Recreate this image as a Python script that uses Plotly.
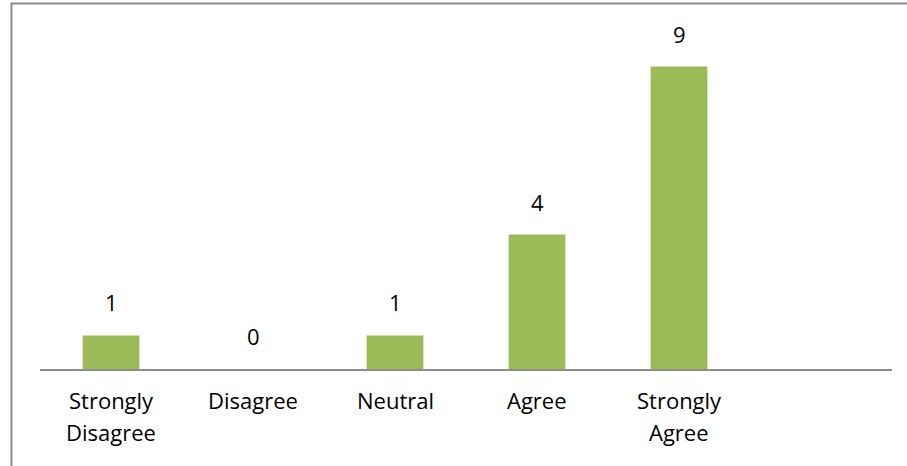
import plotly.graph_objects as go

categories = ["Strongly<br>Disagree", "Disagree", "Neutral", "Agree", "Strongly<br>Agree", " "]
counts = [1, 0, 1, 4, 9]
y_max = 10

font = dict(family="Open Sans, sans-serif", size=22, color="#000000")

fig = go.Figure()
fig.add_trace(go.Bar(
    x=categories[:len(counts)],
    y=counts,
    marker=dict(color="#9BBB59", line=dict(width=0)),
    width=0.4,
    hoverinfo="y",
))

# data labels above bars
for c, v in zip(categories, counts):
    fig.add_annotation(x=c, y=v, text=str(v), showarrow=False,
                       yanchor="bottom", yshift=16, font=font)

# category labels, Excel-style wider line spacing
for c in categories:
    for i, line in enumerate(c.split("<br>")):
        fig.add_annotation(x=c, y=0, yref="paper", text=line, showarrow=False,
                           yanchor="middle", yshift=-31 - 32 * i, font=font)

# outer chart border (left and top edges visible)
fig.add_shape(type="rect", xref="paper", yref="paper",
              x0=-0.0335, x1=1.5, y0=-1, y1=1.0878,
              line=dict(color="#8C8C8C", width=2), layer="below")

fig.update_layout(
    width=907, height=466,
    margin=dict(l=40, r=15, t=33, b=97),
    paper_bgcolor="white", plot_bgcolor="white",
    showlegend=False,
    font=font,
    xaxis=dict(type="category", categoryorder="array", categoryarray=categories,
               range=[-0.5, 5.5], showline=True, linecolor="#8C8C8C", linewidth=1.5,
               ticks="", showgrid=False, showticklabels=False),
    yaxis=dict(range=[0, y_max], visible=False, showgrid=False),
)

fig.write_html("out.html", config={"displayModeBar": False},
               post_script="document.body.style.margin='0';")
